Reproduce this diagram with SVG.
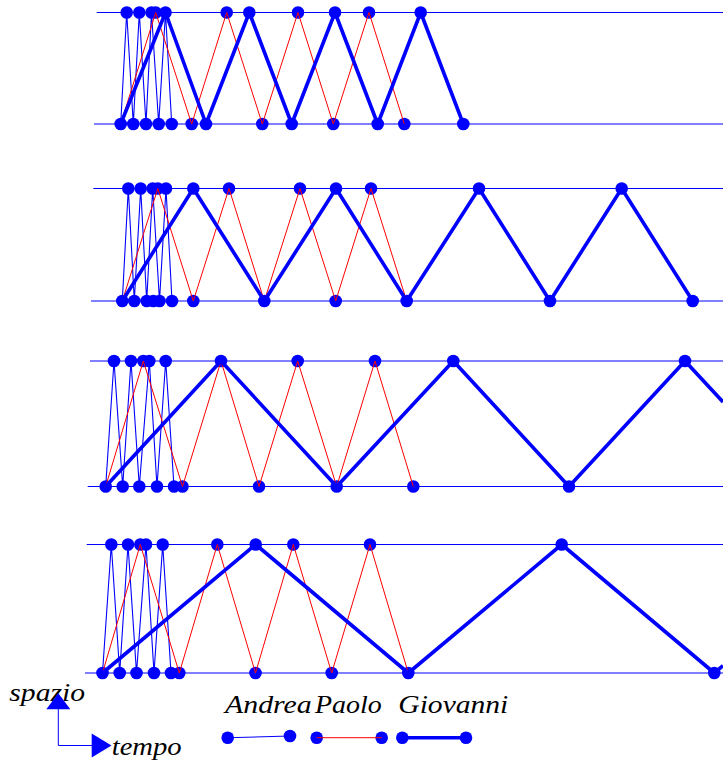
<svg xmlns="http://www.w3.org/2000/svg" width="723" height="761" viewBox="0 0 723 761">
<style>
.h{stroke:#0000ff;stroke-width:1;fill:none}
.a{stroke:#0000ff;stroke-width:1.1;fill:none;stroke-linejoin:miter}
.p{stroke:#ff0000;stroke-width:1;fill:none}
.g{stroke:#0000ff;stroke-width:3.6;fill:none;stroke-linejoin:round}
.d{fill:#0000ff}
.t{font-family:"Liberation Serif",serif;font-style:italic;font-size:26px;fill:#000}
</style>
<g id="axes">
<line class="h" x1="96.7" y1="12.5" x2="723" y2="12.5"/>
<line class="h" x1="94" y1="124" x2="723" y2="124"/>
<line class="h" x1="93.3" y1="188.5" x2="723" y2="188.5"/>
<line class="h" x1="91" y1="301" x2="723" y2="301"/>
<line class="h" x1="90" y1="361" x2="723" y2="361"/>
<line class="h" x1="87.7" y1="486.5" x2="723" y2="486.5"/>
<line class="h" x1="86.7" y1="544.5" x2="723" y2="544.5"/>
<line class="h" x1="85" y1="673" x2="723" y2="673"/>
</g>
<g id="panel1" class="d">
<circle cx="126.7" cy="12.5" r="6.3"/><circle cx="139.3" cy="12.5" r="6.3"/><circle cx="151.5" cy="12.5" r="6.3"/><circle cx="155.7" cy="12.5" r="6.3"/><circle cx="165.5" cy="12.5" r="6.3"/><circle cx="226.7" cy="12.5" r="6.3"/><circle cx="249.3" cy="12.5" r="6.3"/><circle cx="298" cy="12.5" r="6.3"/><circle cx="335" cy="12.5" r="6.3"/><circle cx="369" cy="12.5" r="6.3"/><circle cx="420.7" cy="12.5" r="6.3"/>
<circle cx="120.7" cy="124" r="6.3"/><circle cx="133.3" cy="124" r="6.3"/><circle cx="146" cy="124" r="6.3"/><circle cx="158.7" cy="124" r="6.3"/><circle cx="171.7" cy="124" r="6.3"/><circle cx="191.7" cy="124" r="6.3"/><circle cx="206" cy="124" r="6.3"/><circle cx="262.3" cy="124" r="6.3"/><circle cx="291.7" cy="124" r="6.3"/><circle cx="333.3" cy="124" r="6.3"/><circle cx="377.7" cy="124" r="6.3"/><circle cx="404.3" cy="124" r="6.3"/><circle cx="463.3" cy="124" r="6.3"/>
</g>
<g id="panel2" class="d">
<circle cx="128.3" cy="188.5" r="6.3"/><circle cx="140.7" cy="188.5" r="6.3"/><circle cx="152.7" cy="188.5" r="6.3"/><circle cx="157.8" cy="188.5" r="6.3"/><circle cx="166" cy="188.5" r="6.3"/><circle cx="193.3" cy="188.5" r="6.3"/><circle cx="229" cy="188.5" r="6.3"/><circle cx="300" cy="188.5" r="6.3"/><circle cx="336" cy="188.5" r="6.3"/><circle cx="371" cy="188.5" r="6.3"/><circle cx="479" cy="188.5" r="6.3"/><circle cx="621.7" cy="188.5" r="6.3"/>
<circle cx="122.3" cy="301" r="6.3"/><circle cx="134.3" cy="301" r="6.3"/><circle cx="146.7" cy="301" r="6.3"/><circle cx="153.3" cy="301" r="6.3"/><circle cx="159.5" cy="301" r="6.3"/><circle cx="172" cy="301" r="6.3"/><circle cx="193.3" cy="301" r="6.3"/><circle cx="264.3" cy="301" r="6.3"/><circle cx="335.7" cy="301" r="6.3"/><circle cx="406.7" cy="301" r="6.3"/><circle cx="550" cy="301" r="6.3"/><circle cx="692.7" cy="301" r="6.3"/>
</g>
<g id="panel3" class="d">
<circle cx="114" cy="361" r="6.3"/><circle cx="131" cy="361" r="6.3"/><circle cx="143.3" cy="361" r="6.3"/><circle cx="149.3" cy="361" r="6.3"/><circle cx="165.7" cy="361" r="6.3"/><circle cx="221" cy="361" r="6.3"/><circle cx="297.7" cy="361" r="6.3"/><circle cx="375" cy="361" r="6.3"/><circle cx="453.3" cy="361" r="6.3"/><circle cx="685" cy="361" r="6.3"/>
<circle cx="105.7" cy="486.5" r="6.3"/><circle cx="122.7" cy="486.5" r="6.3"/><circle cx="139.3" cy="486.5" r="6.3"/><circle cx="157" cy="486.5" r="6.3"/><circle cx="174" cy="486.5" r="6.3"/><circle cx="182.5" cy="486.5" r="6.3"/><circle cx="259" cy="486.5" r="6.3"/><circle cx="336.7" cy="486.5" r="6.3"/><circle cx="413.3" cy="486.5" r="6.3"/><circle cx="569" cy="486.5" r="6.3"/>
</g>
<g id="panel4" class="d">
<circle cx="111.3" cy="544.5" r="6.3"/><circle cx="128" cy="544.5" r="6.3"/><circle cx="140.3" cy="544.5" r="6.3"/><circle cx="146" cy="544.5" r="6.3"/><circle cx="162.7" cy="544.5" r="6.3"/><circle cx="217.3" cy="544.5" r="6.3"/><circle cx="255.7" cy="544.5" r="6.3"/><circle cx="293.3" cy="544.5" r="6.3"/><circle cx="370" cy="544.5" r="6.3"/><circle cx="561.7" cy="544.5" r="6.3"/>
<circle cx="102.5" cy="673" r="6.3"/><circle cx="119.7" cy="673" r="6.3"/><circle cx="136.5" cy="673" r="6.3"/><circle cx="154" cy="673" r="6.3"/><circle cx="171" cy="673" r="6.3"/><circle cx="179.3" cy="673" r="6.3"/><circle cx="255.5" cy="673" r="6.3"/><circle cx="331.7" cy="673" r="6.3"/><circle cx="408.3" cy="673" r="6.3"/><circle cx="714.3" cy="673" r="6.3"/>
</g>
<g id="legend-dots" class="d">
<circle cx="227.7" cy="737.7" r="6.3"/><circle cx="290" cy="736" r="6.3"/>
<circle cx="316.7" cy="737.7" r="6.3"/><circle cx="381.7" cy="737.7" r="6.3"/>
<circle cx="402.3" cy="737.7" r="6.3"/><circle cx="466" cy="737.7" r="6.3"/>
</g>
<g id="connectors">
<polyline class="a" points="120.7,124 126.7,12.5 133.3,124 139.3,12.5 146,124 151.5,12.5 158.7,124 165.5,12.5 171.7,124"/>
<polyline class="p" points="120.7,124 155.7,12.5 191.7,124 226.7,12.5 262.3,124 298,12.5 333.3,124 369,12.5 404.3,124"/>
<polyline class="g" points="120.7,124 165.5,12.5 206,124 249.3,12.5 291.7,124 335,12.5 377.7,124 420.7,12.5 463.3,124"/>
<polyline class="a" points="122.3,301 128.3,188.5 134.3,301 140.7,188.5 146.7,301 152.7,188.5 159.5,301 166,188.5 172,301"/>
<polyline class="p" points="122.3,301 157.8,188.5 193.3,301 229,188.5 264.3,301 300,188.5 335.7,301 371,188.5 406.7,301"/>
<polyline class="g" points="122.3,301 193.3,188.5 264.3,301 336,188.5 406.7,301 479,188.5 550,301 621.7,188.5 692.7,301"/>
<polyline class="a" points="105.7,486.5 114,361 122.7,486.5 131,361 139.3,486.5 149.3,361 157,486.5 165.7,361 174,486.5"/>
<polyline class="p" points="105.7,486.5 143.3,361 182.5,486.5 221,361 259,486.5 297.7,361 336.7,486.5 375,361 413.3,486.5"/>
<polyline class="g" points="105.7,486.5 221,361 336.7,486.5 453.3,361 569,486.5 685,361 723,402"/>
<polyline class="a" points="102.5,673 111.3,544.5 119.7,673 128,544.5 136.5,673 146,544.5 154,673 162.7,544.5 171,673"/>
<polyline class="p" points="102.5,673 140.3,544.5 179.3,673 217.3,544.5 255.5,673 293.3,544.5 331.7,673 370,544.5 408.3,673"/>
<polyline class="g" points="102.5,673 255.7,544.5 408.3,673 561.7,544.5 714.3,673 723,665.7"/>
<line class="a" x1="227.7" y1="737.7" x2="290" y2="736"/>
<line class="p" x1="316.7" y1="737.7" x2="381.7" y2="737.7"/>
<line class="g" x1="402.3" y1="737.7" x2="466" y2="737.7"/>
</g>
<g id="labels">
<text class="t" x="9.3" y="700.7" textLength="75.7" lengthAdjust="spacingAndGlyphs">spazio</text>
<text class="t" x="225" y="712.7" textLength="86.7" lengthAdjust="spacingAndGlyphs">Andrea</text>
<text class="t" x="315" y="712.7" textLength="66.7" lengthAdjust="spacingAndGlyphs">Paolo</text>
<text class="t" x="398.3" y="712.7" textLength="110" lengthAdjust="spacingAndGlyphs">Giovanni</text>
<text class="t" x="111.7" y="754.5" textLength="70" lengthAdjust="spacingAndGlyphs">tempo</text>
</g>
<g id="axis-legend">
<polyline class="h" points="58.3,703 58.3,745.5 92,745.5"/>
<polygon class="d" points="58.3,693.3 46.3,709.3 70.3,709.3"/>
<polygon class="d" points="91.7,733.5 91.7,757.5 111.5,745.5"/>
</g>
</svg>
